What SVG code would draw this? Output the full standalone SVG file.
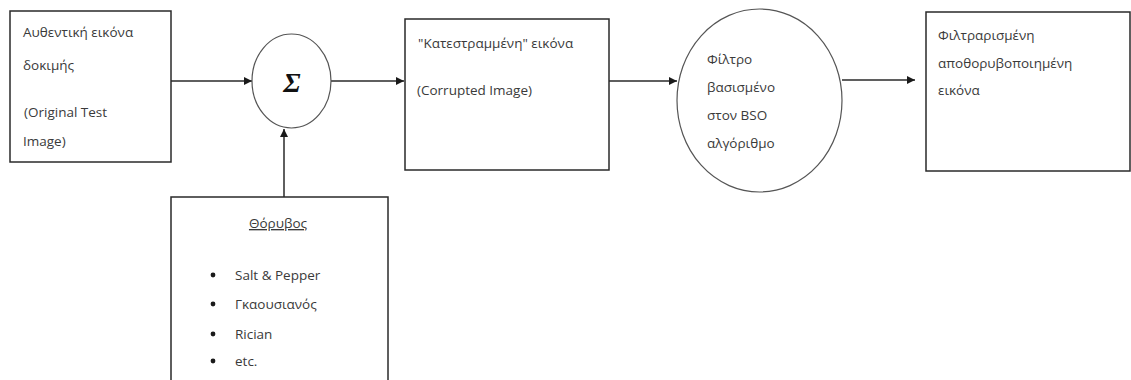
<svg xmlns="http://www.w3.org/2000/svg" width="1131" height="380" viewBox="0 0 1131 380">
  <style>
    .box { fill: #ffffff; stroke: #2a2a2a; stroke-width: 1.5; }
    .ell { fill: #ffffff; stroke: #555555; stroke-width: 1.2; }
    .lbl { font-family: "Open Sans", "Liberation Sans", sans-serif; font-size: 13.5px; fill: #3a3a3a; }
    .sum { font-family: "Liberation Serif", serif; font-size: 28px; font-weight: bold; font-style: italic; fill: #111111; }
    .conn { stroke: #2a2a2a; stroke-width: 1.5; fill: none; marker-end: url(#arrow); }
  </style>
  <defs>
    <marker id="arrow" viewBox="0 0 10 10" refX="10" refY="5" markerWidth="8" markerHeight="8" markerUnits="userSpaceOnUse" orient="auto">
      <path d="M0,0 L10,5 L0,10 z" fill="#1a1a1a"/>
    </marker>
  </defs>
  <rect width="1131" height="380" fill="#ffffff"/>

  <!-- connectors -->
  <g id="connectors">
    <line class="conn" x1="171" y1="81" x2="252" y2="81"/>
    <line class="conn" x1="331" y1="81" x2="404" y2="81"/>
    <line class="conn" x1="609" y1="81" x2="677" y2="81"/>
    <line class="conn" x1="842" y1="80" x2="915" y2="80"/>
    <line class="conn" x1="284" y1="197" x2="284" y2="129"/>
  </g>

  <!-- original test image -->
  <g id="original">
    <rect class="box" x="10" y="11" width="161" height="151"/>
    <text class="lbl" x="23" y="37">Αυθεντική εικόνα</text>
    <text class="lbl" x="23" y="70">δοκιμής</text>
    <text class="lbl" x="24" y="117">(Original Test</text>
    <text class="lbl" x="23" y="146">Image)</text>
  </g>

  <!-- summing junction -->
  <g id="sum">
    <ellipse class="ell" cx="291.5" cy="81" rx="39.5" ry="47"/>
    <text class="sum" x="292" y="92" text-anchor="middle">Σ</text>
  </g>

  <!-- noise source -->
  <g id="noise">
    <rect class="box" x="171" y="197" width="217" height="200"/>
    <text class="lbl" x="278" y="228" text-anchor="middle" text-decoration="underline">Θόρυβος</text>
    <circle cx="213" cy="275" r="2.4" fill="#1a1a1a"/>
    <text class="lbl" x="235" y="280">Salt &amp; Pepper</text>
    <circle cx="213" cy="304" r="2.4" fill="#1a1a1a"/>
    <text class="lbl" x="235" y="309">Γκαουσιανός</text>
    <circle cx="213" cy="334" r="2.4" fill="#1a1a1a"/>
    <text class="lbl" x="235" y="339">Rician</text>
    <circle cx="213" cy="361" r="2.4" fill="#1a1a1a"/>
    <text class="lbl" x="235" y="366">etc.</text>
  </g>

  <!-- corrupted image -->
  <g id="corrupted">
    <rect class="box" x="405" y="19" width="204" height="151"/>
    <text class="lbl" x="418" y="48">"Κατεστραμμένη" εικόνα</text>
    <text class="lbl" x="417" y="95">(Corrupted Image)</text>
  </g>

  <!-- BSO filter -->
  <g id="filter">
    <ellipse class="ell" cx="759.5" cy="100.5" rx="82.5" ry="91.5"/>
    <text class="lbl" x="707" y="64">Φίλτρο</text>
    <text class="lbl" x="707" y="92">βασισμένο</text>
    <text class="lbl" x="707" y="120">στον BSO</text>
    <text class="lbl" x="707" y="148">αλγόριθμο</text>
  </g>

  <!-- filtered output -->
  <g id="output">
    <rect class="box" x="926" y="12" width="204" height="159"/>
    <text class="lbl" x="938" y="40">Φιλτραρισμένη</text>
    <text class="lbl" x="938" y="68">αποθορυβοποιημένη</text>
    <text class="lbl" x="938" y="95">εικόνα</text>
  </g>
</svg>
